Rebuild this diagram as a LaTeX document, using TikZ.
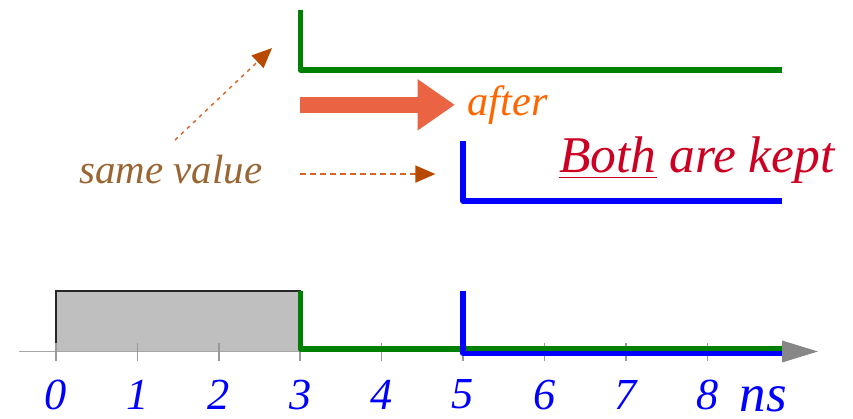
\documentclass[tikz,border=0pt]{standalone}
\usepackage{fontspec}
\setmainfont{Liberation Serif}
\usetikzlibrary{arrows.meta}
\definecolor{sigGreen}{RGB}{0,128,0}
\definecolor{sigBlue}{RGB}{0,0,255}
\definecolor{bigArrow}{RGB}{234,99,66}
\definecolor{afterCol}{RGB}{255,102,0}
\definecolor{brownTxt}{RGB}{153,102,51}
\definecolor{thinArrow}{RGB}{215,100,40}
\definecolor{headCol}{RGB}{184,74,0}
\definecolor{keptCol}{RGB}{204,0,34}
\tikzset{
  greensig/.style={draw=sigGreen, line width=1.8pt, line join=round},
  bluesig/.style={draw=sigBlue, line width=1.8pt, line join=round},
  ticklbl/.style={text=sigBlue, font=\fontsize{15.5}{18}\selectfont\itshape},
  smallarrow/.style={draw=thinArrow, line width=0.5pt, -{Triangle[length=7pt,width=6pt,fill=headCol,color=headCol]}},
}
\begin{document}
\begin{tikzpicture}
\useasboundingbox (-0.688,-0.829) rectangle (9.791,4.318);
% axis
\fill[black!25, draw=black!85, line width=0.4pt] (0,0) rectangle (3,0.743);
\draw[black!35, line width=0.5pt] (-0.45,0) -- (8.95,0);
\foreach \i in {0,...,8} {
  \draw[black!40, line width=0.5pt] (\i,0.1) -- (\i,-0.12);
  \node[ticklbl] (t\i) at (\i,-0.53) {\i};
}
\coordinate (axend) at (8.92,0);
\coordinate (axtip) at (9.36,0);
\fill[black!47] (axend) ++(0,0.135) -- (axtip) -- ([yshift=-0.135cm]axend) -- cycle;
\node[text=sigBlue, font=\fontsize{18.5}{22}\selectfont\itshape] (ns) at (8.69,-0.585) {ns};
% lower signals
\draw[greensig] (3,0.743) -- (3,0.03) -- (8.92,0.03);
\draw[bluesig] (5.0,0.743) -- (5.0,-0.02) -- (8.92,-0.02);
% upper signals
\draw[greensig] (3,4.195) -- (3,3.458) -- (8.92,3.458);
\draw[bluesig] (5.0,2.58) -- (5.0,1.849) -- (8.92,1.849);
% big arrow
\coordinate (ba1) at (3.0,3.03);
\coordinate (ba2) at (4.9,3.03);
\draw[bigArrow, line width=5.6pt, -{Triangle[length=13pt,width=17pt]}] (ba1) -- (ba2);
\node[text=afterCol, font=\fontsize{14.8}{18}\selectfont\itshape] (after) at (5.55,3.03) {after};
% same value
\node[text=brownTxt, font=\fontsize{14.3}{18}\selectfont\itshape] (same) at (1.41,2.23) {same value};
\coordinate (d1) at (1.462,2.598);
\coordinate (d2) at (2.654,3.728);
\draw[smallarrow, dash pattern=on 1.3pt off 1.6pt] (d1) -- (d2);
\coordinate (e1) at (3.0,2.18);
\coordinate (e2) at (4.66,2.18);
\draw[smallarrow, dash pattern=on 2pt off 1.5pt] (e1) -- (e2);
% both are kept
\node[text=keptCol, font=\fontsize{18}{22}\selectfont\itshape] (kept) at (7.875,2.35) {\underline{Both} are kept};
\end{tikzpicture}
\end{document}
